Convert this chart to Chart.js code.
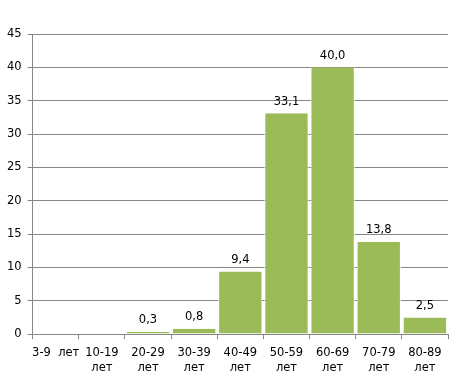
<!DOCTYPE html>
<html><head><meta charset="utf-8">
<script src="https://cdn.jsdelivr.net/npm/chart.js@4.4.0/dist/chart.umd.min.js"></script>
<style>html,body{margin:0;padding:0;background:#fff}#wrap{width:458px;height:385px}</style>
</head><body><div id="wrap"><canvas id="c" width="458" height="385"></canvas></div>
<script>
const categories = ["3-9  лет", ["10-19", "лет"], ["20-29", "лет"], ["30-39", "лет"], ["40-49", "лет"], ["50-59", "лет"], ["60-69", "лет"], ["70-79", "лет"], ["80-89", "лет"]];
const values = [null, null, 0.3, 0.8, 9.4, 33.1, 40.0, 13.8, 2.5];
const yTicks = [0, 5, 10, 15, 20, 25, 30, 35, 40, 45];

const font = "'DejaVu Sans', Verdana, sans-serif";
const labelPlugin = {
  id: 'vlabels',
  afterDatasetsDraw(chart) {
    const ctx = chart.ctx;
    const meta = chart.getDatasetMeta(0);
    ctx.save();
    ctx.font = "11.5px " + font;
    ctx.fillStyle = "#000";
    ctx.textAlign = "center";
    ctx.textBaseline = "bottom";
    meta.data.forEach((el, i) => {
      const v = values[i];
      if (v == null) return;
      ctx.fillText(v.toFixed(1).replace('.', ','), el.x, el.y - 6);
    });
    ctx.restore();
  }
};

new Chart(document.getElementById('c'), {
  type: 'bar',
  data: {
    labels: categories,
    datasets: [{
      data: values,
      backgroundColor: '#9BBB59',
      borderColor: '#ffffff',
      borderWidth: {left: 1, right: 1, top: 0, bottom: 0},
      barPercentage: 0.96,
      categoryPercentage: 1.0
    }]
  },
  options: {
    responsive: false,
    animation: false,
    layout: {padding: {top: 34, right: 10, left: 1, bottom: 4}},
    plugins: {legend: {display: false}, tooltip: {enabled: false}},
    scales: {
      x: {
        grid: {display: true, drawOnChartArea: false, drawTicks: true, tickLength: 5, color: '#868686'},
        border: {color: '#868686', width: 1},
        ticks: {color: '#000', font: {family: font, size: 11.5, lineHeight: 1.3}, maxRotation: 0, autoSkip: false, padding: 6}
      },
      y: {
        min: 0, max: 45,
        afterBuildTicks(axis) { axis.ticks = yTicks.map(v => ({value: v})); },
        grid: {color: '#868686', tickLength: 5, drawTicks: true},
        border: {color: '#868686', width: 1},
        ticks: {color: '#000', font: {family: font, size: 11.5}, padding: 6}
      }
    }
  },
  plugins: [labelPlugin]
});
</script></body></html>
